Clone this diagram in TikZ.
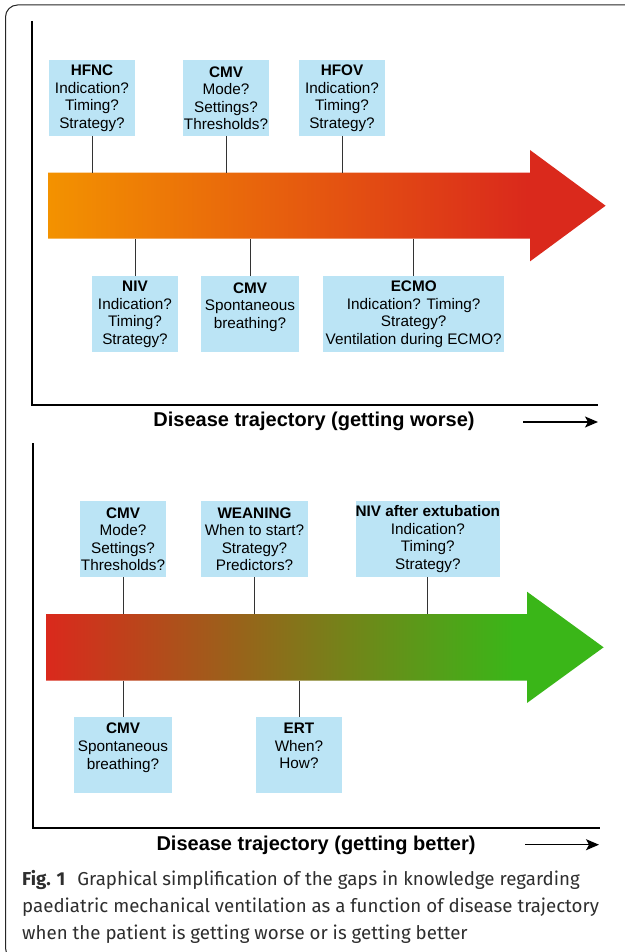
\documentclass[tikz,border=0pt]{standalone}
\usepackage{fontspec}
\setmainfont{Liberation Sans}
\newfontfamily\capfont{Fira Sans}
\usepackage{xcolor}
\usetikzlibrary{arrows.meta}
\definecolor{gapblue}{RGB}{187,228,245}
\definecolor{worseorange}{RGB}{243,146,0}
\definecolor{worsered}{RGB}{218,41,28}
\definecolor{bettergreen}{RGB}{58,182,24}
\pgfdeclarehorizontalshading{worseshade}{100bp}{color(0bp)=(worseorange); color(25bp)=(worseorange); color(68bp)=(worsered); color(100bp)=(worsered)}
\pgfdeclarehorizontalshading{bettershade}{100bp}{color(0bp)=(worsered); color(25bp)=(worsered); color(67bp)=(bettergreen); color(100bp)=(bettergreen)}
\tikzset{
	gap/.style={fill=gapblue, anchor=north, align=center, inner xsep=0pt, inner ysep=2pt,
			minimum height=76pt, font=\fontsize{15.3}{17.6}\selectfont},
	stem/.style={draw=black!80, line width=0.9pt},
	axis/.style={line width=1.6pt},
	trajectory/.style={font=\bfseries\fontsize{20}{24}\selectfont, anchor=base, inner sep=0pt},
	direction/.style={line width=1.3pt, -{Stealth[length=13pt,width=11pt,inset=3pt]}},
	caption/.style={font=\capfont\fontsize{18.7}{23}\selectfont, anchor=base west, inner sep=0pt, text=black!82}
}

\begin{document}
\begin{tikzpicture}[x=1pt, y=-1pt]
	\useasboundingbox (0,0) rectangle (624,952);
	\draw[black!85, line width=1pt, rounded corners=12pt] (5.5,5) rectangle (640,960);

	\draw[axis] (32,21) -- (32,405) -- (598,405);
	\shade[shading=worseshade] (48,172.7) -- (530,172.7) -- (530,150) -- (605.6,205.7)
		-- (530,261.4) -- (530,238.7) -- (48,238.7) -- cycle;
	\coordinate (wtop) at (48,172.7);
	\coordinate (wbot) at (48,238.7);

	\node[gap, minimum width=86pt] (hfnc) at (92,60) {\textbf{HFNC}\\Indication?\\Timing?\\Strategy?};
	\node[gap, minimum width=86pt] (cmva) at (226,60) {\textbf{CMV}\\Mode?\\Settings?\\Thresholds?};
	\node[gap, minimum width=86pt] (hfov) at (342,60) {\textbf{HFOV}\\Indication?\\Timing?\\Strategy?};
	\node[gap, minimum width=86pt] (niv) at (135,276) {\textbf{NIV}\\Indication?\\Timing?\\Strategy?};
	\node[gap, minimum width=98pt] (cmvb) at (250,276) {\textbf{CMV}\\Spontaneous\\breathing?\\\mbox{}};
	\node[gap, minimum width=181pt] (ecmo) at (413.7,276) {\textbf{ECMO}\\Indication? Timing?\\Strategy?\\Ventilation during ECMO?};

	\draw[stem] (hfnc.south) -- (hfnc.south |- wtop);
	\draw[stem] (cmva.south) -- (cmva.south |- wtop);
	\draw[stem] (hfov.south) -- (hfov.south |- wtop);
	\draw[stem] (niv.north) -- (niv.north |- wbot);
	\draw[stem] (cmvb.north) -- (cmvb.north |- wbot);
	\draw[stem] (ecmo.north) -- (ecmo.north |- wbot);

	\node[trajectory] (worse) at (314,426.5) {Disease trajectory (getting worse)};
	\coordinate (worsestart) at (523,422);
	\coordinate (worseend) at (598,422);
	\draw[direction] (worsestart) -- (worseend);

	\draw[axis] (33,443) -- (33,828) -- (600,828);
	\shade[shading=bettershade] (46,614) -- (527,614) -- (527,591.7) -- (603.6,647.3)
		-- (527,703) -- (527,680.6) -- (46,680.6) -- cycle;
	\coordinate (btop) at (46,614);
	\coordinate (bbot) at (46,680.6);

	\node[gap, minimum width=86pt] (cmvc) at (123,501) {\textbf{CMV}\\Mode?\\Settings?\\Thresholds?};
	\node[gap, minimum width=107pt] (weaning) at (254.5,501) {\textbf{WEANING}\\When to start?\\Strategy?\\Predictors?};
	\node[gap, minimum width=142.4pt] (nivext) at (427.8,501) {\textbf{NIV after extubation}\\Indication?\\Timing?\\Strategy?};
	\node[gap, minimum width=97.7pt] (cmvd) at (123,716.7) {\textbf{CMV}\\Spontaneous\\breathing?\\\mbox{}};
	\node[gap, minimum width=86pt] (ert) at (299,716.7) {\textbf{ERT}\\When?\\How?\\\mbox{}};

	\draw[stem] (cmvc.south) -- (cmvc.south |- btop);
	\draw[stem] (weaning.south) -- (weaning.south |- btop);
	\draw[stem] (nivext.south) -- (nivext.south |- btop);
	\draw[stem] (cmvd.north) -- (cmvd.north |- bbot);
	\draw[stem] (ert.north) -- (ert.north |- bbot);

	\node[trajectory] (better) at (316,850.5) {Disease trajectory (getting better)};
	\coordinate (betterstart) at (525,844.7);
	\coordinate (betterend) at (599,844.7);
	\draw[direction] (betterstart) -- (betterend);

	\node[caption] (capa) at (22,885.7) {\textbf{Fig. 1}\hspace{12pt}Graphical simplification of the gaps in knowledge regarding};
	\node[caption] (capb) at (22,912.7) {paediatric mechanical ventilation as a function of disease trajectory};
	\node[caption] (capc) at (22,939) {when the patient is getting worse or is getting better};
\end{tikzpicture}
\end{document}
